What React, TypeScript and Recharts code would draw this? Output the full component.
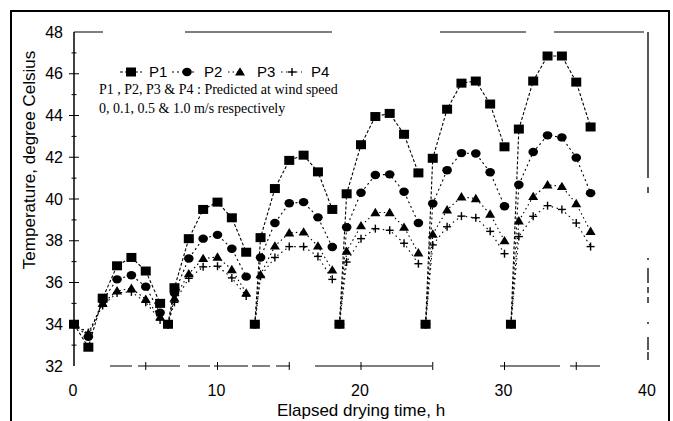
import React from 'react';
import { LineChart, Line, XAxis, YAxis, ReferenceLine, Legend } from 'recharts';

// Elapsed drying time (h); each day starts again at 34 °C
const times = [
  0, 1, 2, 3, 4, 5, 6,
  6.55, 7, 8, 9, 10, 11, 12,
  12.6, 13, 14, 15, 16, 17, 18,
  18.5, 19, 20, 21, 22, 23, 24,
  24.5, 25, 26, 27, 28, 29, 30,
  30.45, 31, 32, 33, 34, 35, 36,
];
const pointsPerDay = 7;

const p1 = [
  34, 32.9, 35.25, 36.8, 37.2, 36.55, 35.0,
  34, 35.75, 38.1, 39.5, 39.85, 39.1, 37.45,
  34, 38.15, 40.5, 41.85, 42.1, 41.3, 39.5,
  34, 40.25, 42.6, 43.95, 44.1, 43.1, 41.25,
  34, 41.95, 44.3, 45.55, 45.65, 44.55, 42.5,
  34, 43.35, 45.65, 46.85, 46.85, 45.6, 43.45,
];
const p2 = [
  34, 33.4, 35.15, 36.15, 36.35, 35.8, 34.55,
  34, 35.5, 37.15, 38.1, 38.28, 37.62, 36.28,
  34, 37.2, 38.85, 39.8, 39.85, 39.12, 37.7,
  34, 38.65, 40.3, 41.15, 41.18, 40.35, 38.85,
  34, 39.78, 41.38, 42.2, 42.18, 41.28, 39.65,
  34, 40.68, 42.25, 43.05, 42.95, 41.98, 40.28,
];
const p3 = [
  34, 33.55, 35.0, 35.6, 35.72, 35.2, 34.35,
  34, 35.25, 36.42, 37.15, 37.22, 36.62, 35.5,
  34, 36.38, 37.75, 38.38, 38.42, 37.75, 36.6,
  34, 37.5, 38.72, 39.35, 39.35, 38.65, 37.42,
  34, 38.32, 39.48, 40.1, 40.02, 39.28, 38.0,
  34, 38.95, 40.12, 40.68, 40.6, 39.78, 38.45,
];
const p4 = [
  34, 33.6, 34.9, 35.5, 35.55, 35.05, 34.2,
  34, 35.05, 36.2, 36.75, 36.78, 36.22, 35.35,
  34, 36.3, 37.2, 37.72, 37.72, 37.25, 36.15,
  34, 36.98, 38.1, 38.58, 38.5, 37.88, 36.9,
  34, 37.8, 38.67, 39.18, 39.1, 38.45, 37.38,
  34, 38.2, 39.17, 39.68, 39.5, 38.85, 37.72,
];

const xTicks = [0, 5, 10, 15, 20, 25, 30, 35, 40];
const xTickLabels = [0, 10, 20, 30, 40];
const yTicks = [32, 33, 34, 35, 36, 37, 38, 39, 40, 41, 42, 43, 44, 45, 46, 47, 48];
const yTickLabels = [32, 34, 36, 38, 40, 42, 44, 46, 48];

const seriesNames = ['P1', 'P2', 'P3', 'P4'];
const noteLine1 = 'P1 , P2, P3 & P4 : Predicted at wind speed';
const noteLine2 = '0, 0.1, 0.5 & 1.0 m/s respectively';

type Row = { t: number; p1: number | null; p2: number | null; p3: number | null; p4: number | null };
const rows: Row[] = [];
times.forEach((t, i) => {
  if (i > 0 && i % pointsPerDay === 0) {
    rows.push({ t, p1: null, p2: null, p3: null, p4: null });
  }
  rows.push({ t, p1: p1[i], p2: p2[i], p3: p3[i], p4: p4[i] });
});

const SANS = '"Liberation Sans", Arial, Helvetica, sans-serif';
const SERIF = '"Liberation Serif", "Times New Roman", serif';
const INK = '#000';

const Square = (cx: number, cy: number) => (
  <rect x={cx - 5} y={cy - 4.5} width={10} height={9} fill={INK} />
);
const Circle = (cx: number, cy: number) => <ellipse cx={cx} cy={cy} rx={4.8} ry={4.2} fill={INK} />;
const Triangle = (cx: number, cy: number) => (
  <polygon points={`${cx},${cy - 4.8} ${cx + 5},${cy + 3.6} ${cx - 5},${cy + 3.6}`} fill={INK} />
);
const Plus = (cx: number, cy: number) => (
  <g stroke={INK} strokeWidth={1.4}>
    <line x1={cx - 4} x2={cx + 4} y1={cy} y2={cy} />
    <line x1={cx} x2={cx} y1={cy - 4} y2={cy + 4} />
  </g>
);

const makeDot = (shape: (cx: number, cy: number) => React.ReactElement) => (props: any) => {
  const { cx, cy, index } = props;
  if (cx == null || cy == null || props.value == null || Number.isNaN(cy)) return <g key={`e${index}`} />;
  return <g key={`d${index}`}>{shape(cx, cy)}</g>;
};

const XTick = (props: any) => {
  const { x, y, payload } = props;
  const v = payload.value;
  const showMark = v !== 0 && v !== 40;
  return (
    <g>
      {showMark && <line x1={x} x2={x} y1={y - 4} y2={y + 4} stroke={INK} strokeWidth={1} />}
      {xTickLabels.includes(v) && (
        <text x={x - 1} y={y + 30} textAnchor="middle" fontSize={16} fontFamily={SANS} fill={INK}>
          {v}
        </text>
      )}
    </g>
  );
};

const YTick = (props: any) => {
  const { x, y, payload } = props;
  const v = payload.value;
  const major = yTickLabels.includes(v);
  const half = major ? 5 : 2.5;
  return (
    <g>
      {v !== 32 && v !== 48 && (
        <line x1={x - half} x2={x + half} y1={y} y2={y} stroke={INK} strokeWidth={1} />
      )}
      {major && (
        <text x={x - 11} y={y + 5.5} textAnchor="end" fontSize={16} fontFamily={SANS} fill={INK}>
          {v}
        </text>
      )}
    </g>
  );
};

const YLabel = (props: any) => {
  const vb = props.viewBox || { x: 0, y: 32 };
  const cx = vb.x + 29;
  const cy = vb.y + 128;
  return (
    <text
      x={cx}
      y={cy}
      transform={`rotate(-90 ${cx} ${cy})`}
      textAnchor="middle"
      dominantBaseline="central"
      fontSize={17}
      fontFamily={SANS}
      fill={INK}
    >
      Temperature, degree Celsius
    </text>
  );
};

const LegendBox = () => {
  const rowY = 12;
  const samples = [
    { x1: 25, x2: 47, mx: 36, tx: 54, dash: '3 2', mark: Square },
    { x1: 77, x2: 99, mx: 92, tx: 109, dash: '2 3', mark: Circle },
    { x1: 133, x2: 150, mx: 145, tx: 162, dash: '1.5 3', mark: Triangle },
    { x1: 186, x2: 207, mx: 197, tx: 216, dash: '1.5 3.5', mark: Plus },
  ];
  return (
    <svg width={290} height={60} style={{ display: 'block', overflow: 'visible' }}>
      {samples.map((s, i) => (
        <g key={seriesNames[i]}>
          <line x1={s.x1} x2={s.x2} y1={rowY} y2={rowY} stroke={INK} strokeWidth={1.2} strokeDasharray={s.dash} />
          {s.mark(s.mx, rowY)}
          <text x={s.tx} y={rowY + 5} fontSize={15} fontFamily={SANS} fill={INK}>
            {seriesNames[i]}
          </text>
        </g>
      ))}
      <text x={4} y={34} fontSize={14} fontFamily={SERIF} fill={INK}>
        {noteLine1}
      </text>
      <text x={4} y={53} fontSize={14} fontFamily={SERIF} fill={INK}>
        {noteLine2}
      </text>
    </svg>
  );
};

const lineDefs = [
  { key: 'p4', dash: '1.5 3.5', dot: makeDot(Plus) },
  { key: 'p3', dash: '1.5 3', dot: makeDot(Triangle) },
  { key: 'p2', dash: '2 3', dot: makeDot(Circle) },
  { key: 'p1', dash: '3 2', dot: makeDot(Square) },
];

export default function App() {
  return (
    <div style={{ position: 'absolute', left: 0, top: 0, width: 673, height: 421, background: '#fff', overflow: 'hidden' }}>
      <div
        style={{
          position: 'absolute',
          left: 10,
          top: 10,
          width: 656,
          height: 440,
          borderTop: '2px solid #000',
          borderLeft: '2px solid #000',
          borderRight: '2px solid #000',
        }}
      />
      <LineChart
        width={673}
        height={421}
        data={rows}
        margin={{ top: 32, right: 25, bottom: 10, left: 0 }}
        style={{ position: 'absolute', left: 0, top: 0 }}
      >
        <XAxis
          dataKey="t"
          type="number"
          domain={[0, 40]}
          ticks={xTicks}
          interval={0}
          height={45}
          tickSize={0}
          tickMargin={0}
          tickLine={false}
          tick={<XTick />}
          axisLine={{ stroke: INK, strokeWidth: 1.2, strokeDasharray: '0 36 22 6 42 8 22 4 34 4 18 6 14 25 117 68 60 10 30 60' }}
          label={{ value: 'Elapsed drying time, h', position: 'insideBottom', offset: -5, fontSize: 17, fontFamily: SANS, fill: INK }}
        />
        <YAxis
          type="number"
          domain={[32, 48]}
          ticks={yTicks}
          interval={0}
          width={74}
          tickSize={0}
          tickMargin={0}
          tickLine={false}
          tick={<YTick />}
          axisLine={{ stroke: INK, strokeWidth: 1.5 }}
          label={<YLabel />}
        />
        <ReferenceLine
          segment={[{ x: 0, y: 48 }, { x: 40, y: 48 }]}
          stroke={INK}
          strokeWidth={1.2}
          strokeDasharray="29 82 147 108 86 28 90 10"
        />
        <ReferenceLine
          segment={[{ x: 40, y: 48 }, { x: 40, y: 32 }]}
          stroke={INK}
          strokeWidth={1.3}
          strokeDasharray="146 9 6 65 2 8 15 4 6 4 6 19 2 13 13 2 8 20"
        />
        {lineDefs.map((d) => (
          <Line
            key={d.key}
            dataKey={d.key}
            type="linear"
            stroke={INK}
            strokeWidth={1.1}
            strokeDasharray={d.dash}
            dot={d.dot}
            activeDot={false}
            connectNulls={false}
            isAnimationActive={false}
          />
        ))}
        <Legend
          verticalAlign="middle"
          align="center"
          layout="horizontal"
          content={<LegendBox />}
          wrapperStyle={{ position: 'absolute', left: 95, top: 60, width: 290, height: 60 }}
        />
      </LineChart>
    </div>
  );
}
